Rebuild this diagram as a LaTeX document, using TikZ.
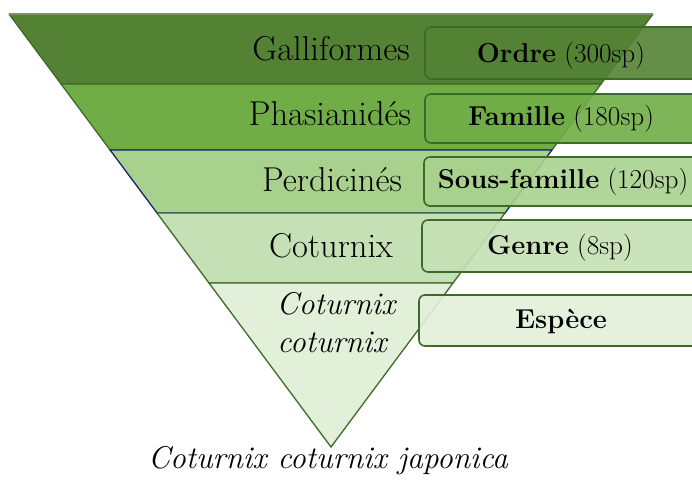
\documentclass[tikz,border=0pt]{standalone}
\usepackage{fontspec}
\definecolor{cA}{HTML}{548235}
\definecolor{cB}{HTML}{70AD47}
\definecolor{cC}{HTML}{A9D18E}
\definecolor{cD}{HTML}{C5E0B4}
\definecolor{cE}{HTML}{E2F0D9}
\definecolor{edge}{HTML}{3E6A29}
\definecolor{navyedge}{HTML}{0D2A6B}
\definecolor{topedge}{HTML}{7E9070}
\tikzset{
  band/.style={draw=edge, line width=1.3pt, line join=miter},
  lbl/.style={font=\fontsize{34.5}{40}\selectfont, anchor=base, inner sep=0pt},
  ilbl/.style={font=\fontsize{31.5}{36}\selectfont\itshape, anchor=base, inner sep=0pt},
  tag/.style={draw=edge, line width=1.6pt, rounded corners=6pt, fill opacity=0.9, inner sep=0pt},
  taglbl/.style={font=\fontsize{27.3}{32}\selectfont, anchor=base, inner sep=0pt}
}
\begin{document}
\begin{tikzpicture}[x=1pt,y=-1pt]
\useasboundingbox (0,0) rectangle (692,490);
\clip (0,0) rectangle (692,490);
% bands of the inverted triangle
\coordinate (p0l) at (9,14);     \coordinate (p0r) at (653,14);
\coordinate (p1l) at (61.05,84); \coordinate (p1r) at (600.95,84);
\coordinate (p2l) at (110.1,150);\coordinate (p2r) at (551.9,150);
\coordinate (p3l) at (157,213);  \coordinate (p3r) at (505,213);
\coordinate (p4l) at (209,283);  \coordinate (p4r) at (453,283);
\coordinate (apex) at (331,447);
\fill[cA] (p0l) -- (p0r) -- (p1r) -- (p1l) -- cycle;
\draw[band] (p1l) -- (p0l);
\draw[band] (p0r) -- (p1r) -- (p1l);
\draw[topedge, line width=1.3pt] (p0l) -- (p0r);
\filldraw[band, fill=cB] (p1l) -- (p1r) -- (p2r) -- (p2l) -- cycle;
\filldraw[band, draw=navyedge, fill=cC] (p2l) -- (p2r) -- (p3r) -- (p3l) -- cycle;
\filldraw[band, fill=cD] (p3l) -- (p3r) -- (p4r) -- (p4l) -- cycle;
\filldraw[band, fill=cE] (p4l) -- (p4r) -- (apex) -- cycle;
% band labels
\node[lbl] (galli) at (331,60) {Galliformes};
\node[lbl] (phasi) at (330,125) {Phasianidés};
\node[lbl] (perdi) at (332,191) {Perdicinés};
\node[lbl] (cotur) at (331,257) {Coturnix};
\node[ilbl] (cc1) at (336,314) {Coturnix};
\node[ilbl] (cc2) at (332,352) {coturnix};
\node[ilbl] (ccj) at (328,468) {Coturnix coturnix japonica};
% rank tags
\node[tag, fill=cA, minimum width=275pt, minimum height=52pt] (tA) at (562.5,53) {};
\node[tag, fill=cB, minimum width=275pt, minimum height=49pt] (tB) at (562.5,118.5) {};
\node[tag, fill=cC, minimum width=276pt, minimum height=49pt] (tC) at (562,181.5) {};
\node[tag, fill=cD, minimum width=278pt, minimum height=52pt] (tD) at (561,246) {};
\node[tag, fill=cE, minimum width=281pt, minimum height=51pt] (tE) at (559.5,320.5) {};
\node[taglbl] (lA) at (561,62) {\textbf{Ordre} (300sp)};
\node[taglbl] (lB) at (561,125) {\textbf{Famille} (180sp)};
\node[taglbl] (lC) at (563,188) {\textbf{Sous-famille} (120sp)};
\node[taglbl] (lD) at (560,254) {\textbf{Genre} (8sp)};
\node[taglbl] (lE) at (561,328) {\textbf{Espèce}};
\end{tikzpicture}
\end{document}
